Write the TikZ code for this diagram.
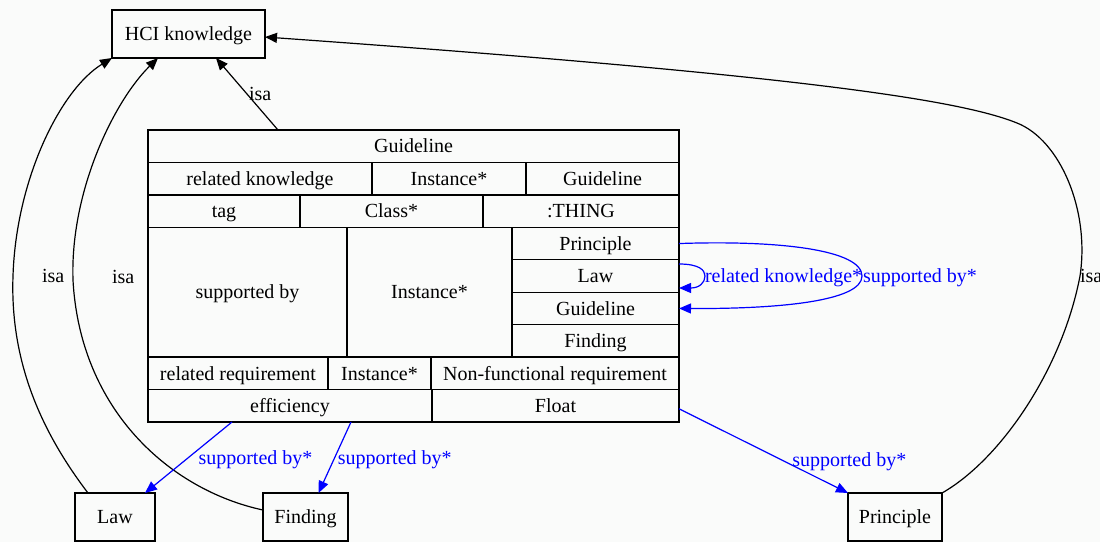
\documentclass[tikz,border=0pt]{standalone}
\usepackage{fontspec}
\setmainfont{Liberation Serif}
\usetikzlibrary{arrows.meta}
\definecolor{bg}{RGB}{250,251,250}
\definecolor{edgeblue}{RGB}{0,0,255}
\begin{document}
\begin{tikzpicture}[x=1pt,y=-1pt,
  every node/.style={font=\fontsize{20pt}{24pt}\selectfont, inner sep=0pt, outer sep=0pt, text height=14pt, text depth=0.5pt},
  box/.style={draw, line width=1.4pt, anchor=center, minimum height=48pt},
  cell/.style={draw, line width=1.4pt, anchor=north west, minimum height=32.44pt},
  tall/.style={cell, minimum height=129.8pt},
  isaedge/.style={draw=black, line width=1.2pt, -{Triangle[length=12pt,width=10pt]}},
  supedge/.style={draw=edgeblue, line width=1.2pt, -{Triangle[length=12pt,width=10pt]}},
  lbl/.style={text=black},
  blbl/.style={text=edgeblue}
]
\path[use as bounding box, fill=bg] (0,0) rectangle (1100,542);

% top and bottom nodes
\node[box, minimum width=153pt] (hci) at (188.5,34) {HCI knowledge};
\node[box, minimum width=80pt] (law) at (115,517) {Law};
\node[box, minimum width=85pt] (finding) at (305.5,517) {Finding};
\node[box, minimum width=94pt] (principle) at (895,517) {Principle};

% record node: Guideline
\node[cell, minimum width=531pt] (title) at (148,130) {Guideline};
\node[cell, minimum width=224pt] (rk) at (148,162.44) {related knowledge};
\node[cell, minimum width=154pt] (rkinst) at (372,162.44) {Instance*};
\node[cell, minimum width=153pt] (rkval) at (526,162.44) {Guideline};
\node[cell, minimum width=152pt] (tag) at (148,194.88) {tag};
\node[cell, minimum width=183pt] (tagcls) at (300,194.88) {Class*};
\node[cell, minimum width=196pt] (tagval) at (483,194.88) {:THING};
\node[tall, minimum width=199pt] (sb) at (148,227.32) {supported by};
\node[tall, minimum width=165pt] (sbinst) at (347,227.32) {Instance*};
\node[cell, minimum width=167pt] (vprin) at (512,227.32) {Principle};
\node[cell, minimum width=167pt] (vlaw) at (512,259.77) {Law};
\node[cell, minimum width=167pt] (vguide) at (512,292.21) {Guideline};
\node[cell, minimum width=167pt] (vfind) at (512,324.66) {Finding};
\node[cell, minimum width=180pt] (rr) at (148,357.1) {related requirement};
\node[cell, minimum width=103pt] (rrinst) at (328,357.1) {Instance*};
\node[cell, minimum width=248pt] (rrval) at (431,357.1) {Non-functional requirement};
\node[cell, minimum width=284pt] (eff) at (148,389.55) {efficiency};
\node[cell, minimum width=247pt] (flt) at (432,389.55) {Float};

% isa edges
\draw[isaedge] ([xshift=-135.5pt]title.north) -- node[lbl, anchor=west, xshift=2pt] {isa} ([xshift=27.5pt]hci.south);

\draw[isaedge] ([xshift=-27pt]law.north)
  .. controls (40,430) and (10,360) .. (13,276) node[lbl, anchor=west, xshift=29pt] {isa}
  .. controls (16,180) and (60,90) .. ([xshift=-76.5pt]hci.south);

\draw[isaedge] ([yshift=7pt]finding.west)
  .. controls (170,490) and (80,410) .. (73,280) node[lbl, anchor=west, xshift=39pt, yshift=3pt] {isa}
  .. controls (70,190) and (115,100) .. ([xshift=-30.5pt]hci.south);

\draw[isaedge] (principle.north east)
  .. controls (1000,460) and (1062,370) .. (1080,276) node[lbl, anchor=west] {isa}
  .. controls (1090,210) and (1060,140) .. (1017,123)
  .. controls (960,100) and (800,75) .. ([yshift=-3pt]hci.east);

% supported by edges
\draw[supedge] ([xshift=-58pt]eff.south) -- node[blbl, anchor=west, xshift=10pt] {supported by*} ([xshift=30pt]law.north);
\draw[supedge] ([xshift=61pt]eff.south) -- node[blbl, anchor=west, xshift=3pt] {supported by*} ([xshift=13pt]finding.north);
\draw[supedge] ([yshift=-3pt]flt.east) -- node[blbl, pos=0.6, anchor=west, xshift=12pt] {supported by*} (principle.north west);

% self loops
\draw[supedge] (vprin.east)
  .. controls (780,240) and (862,250) .. (862,276) node[blbl, anchor=west, xshift=1pt] {supported by*}
  .. controls (862,301) and (780,309) .. (vguide.east);
\draw[supedge] ([yshift=12pt]vlaw.east)
  .. controls (699,264) and (705,270) .. (705,276) node[blbl, anchor=west] {related knowledge*}
  .. controls (705,283) and (699,288) .. ([yshift=-12pt]vlaw.east);
\end{tikzpicture}
\end{document}
